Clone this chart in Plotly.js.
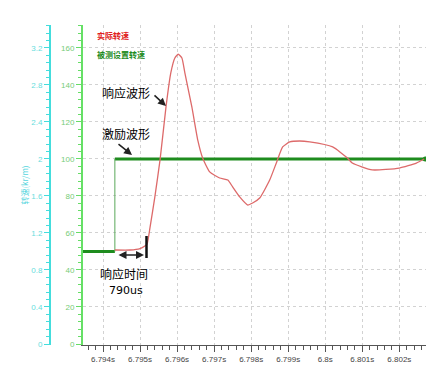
<!DOCTYPE html>
<html><head><meta charset="utf-8">
<script src="https://cdn.plot.ly/plotly-3.0.1.min.js"></script>
<style>html,body{margin:0;padding:0;background:#fff;}#c{width:448px;height:366px;}</style>
</head><body><div id="c"></div>
<script>
// Set (excitation) speed step
const setTime = [6.79346, 6.79432, 6.79432, 6.80270];
const setSpeed = [50, 50, 100, 100];
// Actual (response) speed
const actTime = [6.79432, 6.79473, 6.79500, 6.79513, 6.79519, 6.79527, 6.79540, 6.79554, 6.79570, 6.79583, 6.79594, 6.79603, 6.79613, 6.79621, 6.79640, 6.79656, 6.79669, 6.79688, 6.79715, 6.79737, 6.79750, 6.79769, 6.79791, 6.79804, 6.79823, 6.79850, 6.79869, 6.79885, 6.79904, 6.79931, 6.79958, 6.80020, 6.80060, 6.80073, 6.80127, 6.80200, 6.80246, 6.80267];
const actSpeed = [50.8, 50.8, 51.6, 53, 54, 63, 79.5, 99.5, 128, 146.5, 154.6, 156.6, 154.6, 146.5, 128, 110, 100.5, 93, 89.7, 88.6, 84.9, 79.5, 75.1, 76.2, 78.9, 88.6, 98.4, 106.5, 109.2, 109.7, 109.2, 106.5, 100.5, 97.8, 94.1, 95.1, 97.8, 100];
const xTickVals = [6.794, 6.795, 6.796, 6.797, 6.798, 6.799, 6.800, 6.801, 6.802];
const xTickText = ['6.794s', '6.795s', '6.796s', '6.797s', '6.798s', '6.799s', '6.8s', '6.801s', '6.802s'];
const legendNames = ['实际转速', '被测设置转速'];
const labels = {resp: '响应波形', exc: '激励波形', time: '响应时间', dur: '790us', y2title: '转速(kr/m)'};

const W = 448, H = 366, ML = 20, MR = 20, MT = 25, MB = 21;
const PW = W - ML - MR, PH = H - MT - MB;
const px = v => (v - ML) / PW;
const py = v => (H - MB - v) / PH;

const n = setTime.length;
const traces = [
  // horizontal (thick) parts of the step
  {x: [setTime[0], setTime[1], null, setTime[2], setTime[3]], y: [setSpeed[0], setSpeed[1], null, setSpeed[2], setSpeed[3]],
   mode: 'lines', line: {color: '#1e8c1e', width: 3}, hoverinfo: 'skip', showlegend: false},
  // vertical (thin) edge of the step
  {x: [setTime[1], setTime[2]], y: [setSpeed[1], setSpeed[2]], mode: 'lines', line: {color: '#5aa85a', width: 1},
   hoverinfo: 'skip', showlegend: false},
  {x: [setTime[n - 1]], y: [setSpeed[n - 1]], mode: 'markers', marker: {color: '#1e8c1e', size: 5}, hoverinfo: 'skip', showlegend: false},
  {x: actTime, y: actSpeed, mode: 'lines', line: {color: '#dd6a6a', width: 1.3, shape: 'spline', smoothing: 0.5}, hoverinfo: 'skip', showlegend: false},
  {x: [], y: [], yaxis: 'y2', mode: 'lines', hoverinfo: 'skip', showlegend: false}
];

const tickFont = {family: 'Liberation Sans, Arial, sans-serif', size: 8};
const layout = {
  width: W, height: H,
  margin: {l: ML, r: MR, t: MT, b: MB},
  paper_bgcolor: '#fff', plot_bgcolor: '#fff',
  showlegend: false,
  xaxis: {
    domain: [px(83), px(426)], range: [6.79346, 6.80272],
    tickvals: xTickVals, ticktext: xTickText,
    tickfont: Object.assign({color: '#444'}, tickFont),
    ticks: 'outside', ticklen: 6, tickcolor: '#555',
    showline: true, linecolor: '#555', linewidth: 1,
    showgrid: true, gridcolor: '#d2d2d2', griddash: 'dot', gridwidth: 1,
    zeroline: false,
    minor: {dtick: 0.0002, tick0: 6.794, ticks: 'outside', ticklen: 4, tickcolor: '#555', showgrid: false}
  },
  yaxis: {
    range: [-0.54, 172.4], tick0: 0, dtick: 20,
    tickfont: Object.assign({color: '#77cc77'}, tickFont),
    ticks: 'outside', ticklen: 5, tickcolor: '#66dd66',
    showline: true, linecolor: '#66e066', linewidth: 2,
    showgrid: true, gridcolor: '#d2d2d2', griddash: 'dot', gridwidth: 1,
    zeroline: false,
    minor: {dtick: 4, tick0: 0, ticks: 'outside', ticklen: 3, tickcolor: '#66dd66', showgrid: false}
  },
  yaxis2: {
    overlaying: 'y', anchor: 'free', position: px(50), side: 'left',
    range: [-0.0108, 3.448], tick0: 0, dtick: 0.4,
    tickfont: Object.assign({color: '#66dddd'}, tickFont),
    ticks: 'outside', ticklen: 5, tickcolor: '#44dddd',
    showline: true, linecolor: '#44dddd', linewidth: 2,
    showgrid: false, zeroline: false,
    title: {text: labels.y2title, font: {family: 'Noto Sans CJK SC', size: 8, color: '#55d5dd'}, standoff: 0},
    minor: {dtick: 0.08, tick0: 0, ticks: 'outside', ticklen: 3, tickcolor: '#44dddd'}
  },
  annotations: [
    {xref: 'paper', yref: 'paper', x: px(95), y: py(35), xanchor: 'left', yanchor: 'middle', showarrow: false,
     text: '<b>' + legendNames[0] + '</b>', font: {family: 'Noto Sans CJK SC', size: 8, color: '#e02020'}},
    {xref: 'paper', yref: 'paper', x: px(95), y: py(54.5), xanchor: 'left', yanchor: 'middle', showarrow: false,
     text: '<b>' + legendNames[1] + '</b>', font: {family: 'Noto Sans CJK SC', size: 8, color: '#1e8c1e'}},
    {xref: 'paper', yref: 'paper', x: px(100), y: py(92), xanchor: 'left', yanchor: 'middle', showarrow: false,
     text: labels.resp, font: {family: 'Noto Sans CJK SC', size: 12, color: '#000'}},
    {xref: 'paper', yref: 'paper', x: px(100), y: py(133), xanchor: 'left', yanchor: 'middle', showarrow: false,
     text: labels.exc, font: {family: 'Noto Sans CJK SC', size: 12, color: '#000'}},
    {xref: 'paper', yref: 'paper', x: px(124), y: py(273), xanchor: 'center', yanchor: 'middle', showarrow: false,
     text: labels.time, font: {family: 'Noto Sans CJK SC', size: 12, color: '#000'}},
    {xref: 'paper', yref: 'paper', x: px(126), y: py(290), xanchor: 'center', yanchor: 'middle', showarrow: false,
     text: labels.dur, font: {family: 'DejaVu Sans', size: 11, color: '#000'}},
    {xref: 'paper', yref: 'paper', x: px(166), y: py(106), ax: -13, ay: -12, text: '', showarrow: true,
     arrowhead: 2, arrowsize: 1, arrowwidth: 1.6, arrowcolor: '#222'},
    {xref: 'paper', yref: 'paper', x: px(132), y: py(155), ax: -15, ay: -12, text: '', showarrow: true,
     arrowhead: 2, arrowsize: 1, arrowwidth: 1.6, arrowcolor: '#222'},
    {xref: 'paper', yref: 'paper', x: px(144), y: py(255), ax: -27, ay: 0, text: '', showarrow: true,
     arrowhead: 2, arrowside: 'end+start', arrowsize: 1, arrowwidth: 1.6, arrowcolor: '#222'}
  ],
  shapes: [
    {type: 'line', xref: 'paper', yref: 'paper', x0: px(146.5), x1: px(146.5), y0: py(236), y1: py(258),
     line: {color: '#111', width: 2.5}}
  ]
};
Plotly.newPlot('c', traces, layout, {staticPlot: true, displayModeBar: false});
</script></body></html>
